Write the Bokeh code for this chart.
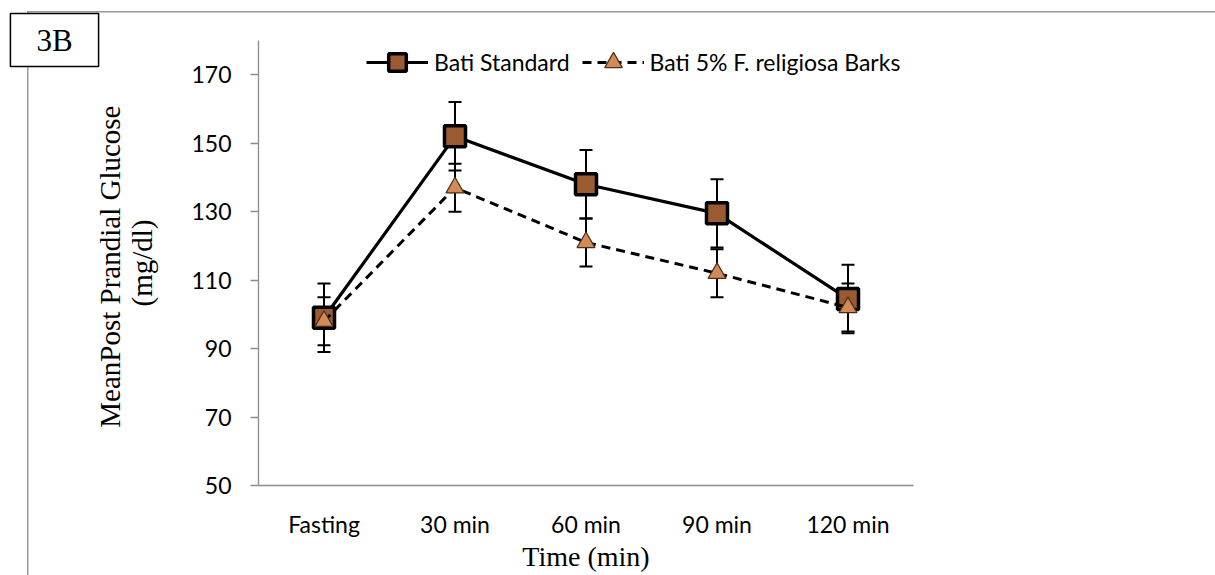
from bokeh.plotting import figure
from bokeh.models import (FactorRange, Range1d, FixedTicker, Whisker, TeeHead,
                          ColumnDataSource, Legend, LegendItem, Label)
from bokeh.embed import file_html
from bokeh.resources import INLINE

# ---- data ----
times = ["Fasting", "30 min", "60 min", "90 min", "120 min"]
standard = [99, 152, 138, 129.5, 104.5]
standard_err = [10, 10, 10, 10, 10]
religiosa = [98, 137, 121, 112, 102]
religiosa_err = [7, 7, 7, 7, 7]
y_ticks = [50, 70, 90, 110, 130, 150, 170]
series_names = ["Bati Standard", "Bati 5% F. religiosa Barks"]
panel_tag = "3B"
y_title = "MeanPost Prandial  Glucose\n(mg/dl)"
x_title = "Time (min)"

# ---- layout (pixels on the page) ----
W, H = 1215, 575
FL, FR, FT, FB = 258, 913, 40, 485
Y0, Y1 = 50, 180
GRAY = "#9a9a9a"


def dx(px):  # page x -> x data coordinate (factor range spans 0..n)
    return (px - FL) / (FR - FL) * len(times)


def dy(py):  # page y -> y data coordinate
    return Y1 - (py - FT) / (FB - FT) * (Y1 - Y0)


p = figure(width=W, height=H, title=None,
           x_range=FactorRange(*times), y_range=Range1d(Y0, Y1),
           output_backend="svg", toolbar_location=None,
           min_border_left=FL, min_border_right=W - FR,
           min_border_top=FT, min_border_bottom=H - FB)
p.outline_line_color = None
p.xgrid.grid_line_color = None
p.ygrid.grid_line_color = None
p.background_fill_color = "white"
p.border_fill_color = None
# thin gray page-frame lines (top and left) behind the canvas
p.styles = {
    "background-color": "white",
    "background-image": f"linear-gradient({GRAY}, {GRAY}), linear-gradient({GRAY}, {GRAY})",
    "background-size": "1200px 1.5px, 1.5px 600px",
    "background-position": "27px 11px, 27px 11px",
    "background-repeat": "no-repeat, no-repeat",
}

AX = "#8c8c8c"
TF = "Lato"
SERIF = "Liberation Serif"
p.xaxis.axis_line_color = AX
p.xaxis.axis_line_width = 1.3
p.xaxis.major_tick_line_color = None
p.xaxis.minor_tick_line_color = None
p.xaxis.major_tick_out = 0
p.xaxis.major_tick_in = 0
p.xaxis.major_label_standoff = 24
p.xaxis.major_label_text_font = TF
p.xaxis.major_label_text_font_size = "23px"
p.xaxis.major_label_text_color = "black"
p.xaxis.axis_label = x_title
p.xaxis.axis_label_standoff = 0
p.xaxis.axis_label_text_font = SERIF
p.xaxis.axis_label_text_font_size = "28px"
p.xaxis.axis_label_text_font_style = "normal"
p.xaxis.axis_label_text_color = "black"

p.yaxis.ticker = FixedTicker(ticks=y_ticks)
p.yaxis.axis_line_color = AX
p.yaxis.axis_line_width = 1.3
p.yaxis.major_tick_line_color = AX
p.yaxis.major_tick_line_width = 1.3
p.yaxis.major_tick_out = 8
p.yaxis.major_tick_in = 0
p.yaxis.minor_tick_line_color = None
p.yaxis.major_label_standoff = 19
p.yaxis.major_label_text_font = TF
p.yaxis.major_label_text_font_size = "23px"
p.yaxis.major_label_text_color = "black"
p.yaxis.axis_label = y_title
p.yaxis.axis_label_standoff = 30
p.yaxis.axis_label_text_font = SERIF
p.yaxis.axis_label_text_font_size = "29px"
p.yaxis.axis_label_text_line_height = 1.02
p.yaxis.axis_label_text_font_style = "normal"
p.yaxis.axis_label_text_color = "black"

# ---- series ----
src1 = ColumnDataSource(dict(x=times, y=standard,
                             upper=[v + e for v, e in zip(standard, standard_err)],
                             lower=[v - e for v, e in zip(standard, standard_err)]))
src2 = ColumnDataSource(dict(x=times, y=religiosa,
                             upper=[v + e for v, e in zip(religiosa, religiosa_err)],
                             lower=[v - e for v, e in zip(religiosa, religiosa_err)]))

l1 = p.line("x", "y", source=src1, line_color="black", line_width=3.2)
w1 = Whisker(base="x", upper="upper", lower="lower", source=src1,
             line_color="black", line_width=2, level="underlay",
             upper_head=TeeHead(size=13, line_color="black", line_width=2),
             lower_head=TeeHead(size=13, line_color="black", line_width=2))
p.add_layout(w1)
s1 = p.scatter("x", "y", source=src1, marker="square", size=21,
               fill_color="#9a5b32", line_color="black", line_width=3.5)

l2 = p.line("x", "y", source=src2, line_color="black", line_width=3,
            line_dash="9 6")
w2 = Whisker(base="x", upper="upper", lower="lower", source=src2,
             line_color="black", line_width=2, level="underlay",
             upper_head=TeeHead(size=13, line_color="black", line_width=2),
             lower_head=TeeHead(size=13, line_color="black", line_width=2))
p.add_layout(w2)
s2 = p.scatter("x", "y", source=src2, marker="triangle", size=18,
               fill_color="#d18a58", line_color="#4a2e18", line_width=1.2)

# series legend inside the plot area (kept within the frame)
LEG_H = 44
legend = Legend(items=[LegendItem(label=series_names[0], renderers=[l1, s1]),
                       LegendItem(label=series_names[1], renderers=[l2, s2])],
                orientation="horizontal",
                location=(366 - FL, (FB - 62) - LEG_H / 2),
                glyph_width=62, glyph_height=LEG_H, label_standoff=6, spacing=12,
                padding=0, margin=0, border_line_color=None,
                background_fill_alpha=0, label_text_font=TF,
                label_text_font_size="23px", label_text_color="black")
p.add_layout(legend)

# panel tag "3B": boxed label placed in the left side panel (not clipped)
tag = Label(x=dx(54), y=dy(39.5), text=panel_tag,
            text_align="center", text_baseline="middle",
            text_font=SERIF, text_font_size="31px", text_color="black",
            border_line_color="black", border_line_width=1.5,
            background_fill_color="white", background_fill_alpha=1,
            padding=dict(x=26, y=9))
p.add_layout(tag, "left")

open("out.html", "w").write(file_html(p, INLINE))
